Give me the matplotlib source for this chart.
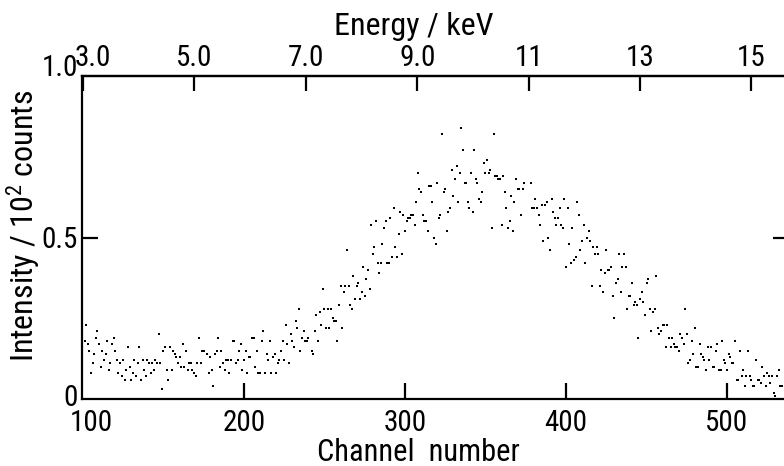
import numpy as np
import matplotlib
matplotlib.use("Agg")
import matplotlib.pyplot as plt
from matplotlib import font_manager
from matplotlib.transforms import ScaledTranslation

# Spectrum readings (intensity in units of 10^2 counts), one point per channel,
# grouped into consecutive runs that begin at the given channel.
run_start = [101, 177, 242, 272, 378, 506]

run_101 = [0.18, 0.23, 0.17, 0.15, 0.08, 0.11, 0.14, 0.19, 0.21, 0.17, 0.10, 0.15, 0.12,
           0.14, 0.18, 0.09, 0.11, 0.17, 0.19, 0.15, 0.12, 0.08, 0.11, 0.07, 0.12, 0.06,
           0.09, 0.16, 0.10, 0.06, 0.08, 0.12, 0.07, 0.11, 0.16, 0.06, 0.12, 0.09, 0.07,
           0.12, 0.11, 0.08, 0.11, 0.09, 0.12, 0.11, 0.20, 0.11, 0.03, 0.15, 0.16, 0.09,
           0.06, 0.16, 0.09, 0.15, 0.14, 0.13, 0.11, 0.13, 0.10, 0.17, 0.10, 0.15, 0.09,
           0.11, 0.11, 0.09, 0.08, 0.07, 0.11, 0.19, 0.11, 0.15, 0.15]

run_177 = [0.14, 0.08, 0.13, 0.09, 0.04, 0.14, 0.15, 0.19, 0.10, 0.15, 0.11, 0.09, 0.12,
           0.12, 0.08, 0.12, 0.18, 0.18, 0.11, 0.12, 0.15, 0.17, 0.09, 0.12, 0.15, 0.08,
           0.13, 0.13, 0.19, 0.19, 0.10, 0.15, 0.08, 0.08, 0.18, 0.21, 0.08, 0.14, 0.12,
           0.18, 0.08, 0.13, 0.14, 0.08, 0.11, 0.12, 0.15, 0.18, 0.12, 0.23, 0.17, 0.11,
           0.20, 0.18, 0.16, 0.24, 0.22, 0.28, 0.15, 0.19, 0.21, 0.18, 0.18, 0.19]

run_242 = [0.15, 0.14, 0.21, 0.26, 0.18, 0.27, 0.23, 0.34, 0.28, 0.22, 0.28, 0.22, 0.28,
           0.25, 0.24, 0.24, 0.18, 0.29, 0.35, 0.22, 0.33, 0.35, 0.46, 0.35, 0.29, 0.28,
           0.38, 0.31, 0.35, 0.36]

run_272 = [0.31, 0.33, 0.41, 0.32, 0.37, 0.40, 0.34, 0.54, 0.45, 0.47, 0.55, 0.42, 0.39,
           0.42, 0.48, 0.53, 0.55, 0.42, 0.42, 0.56, 0.44, 0.59, 0.47, 0.44, 0.51, 0.58,
           0.45, 0.57, 0.52, 0.55, 0.56, 0.56, 0.57, 0.57, 0.54, 0.61, 0.70, 0.65, 0.64,
           0.57, 0.55, 0.55, 0.52, 0.66, 0.66, 0.61, 0.50, 0.48, 0.67, 0.56, 0.57, 0.82,
           0.64, 0.65, 0.52, 0.58, 0.59, 0.71, 0.63, 0.68, 0.72, 0.61, 0.70, 0.84, 0.77,
           0.67, 0.67, 0.61, 0.59, 0.70, 0.58, 0.77, 0.68, 0.67, 0.62, 0.61, 0.64, 0.73,
           0.70, 0.74, 0.70, 0.71, 0.53, 0.82, 0.69, 0.69, 0.68, 0.68, 0.54, 0.69, 0.64,
           0.59, 0.53, 0.55, 0.63, 0.52, 0.61, 0.68, 0.65, 0.65, 0.57, 0.65, 0.67]

run_378 = [0.67, 0.59, 0.59, 0.62, 0.59, 0.57, 0.54, 0.60, 0.49, 0.60, 0.61, 0.50, 0.46,
           0.62, 0.58, 0.56, 0.54, 0.56, 0.59, 0.54, 0.53, 0.62, 0.41, 0.59, 0.48, 0.42,
           0.53, 0.43, 0.44, 0.61, 0.57, 0.46, 0.49, 0.54, 0.42, 0.50, 0.52, 0.49, 0.35,
           0.47, 0.45, 0.47, 0.45, 0.35, 0.40, 0.33, 0.39, 0.46, 0.40, 0.40, 0.41, 0.32,
           0.25, 0.36, 0.37, 0.45, 0.33, 0.41, 0.45, 0.41, 0.28, 0.32, 0.32, 0.36, 0.29,
           0.30, 0.29, 0.19, 0.31, 0.33, 0.30, 0.26, 0.36, 0.37, 0.28, 0.21, 0.27, 0.28,
           0.38, 0.22, 0.20, 0.21, 0.23, 0.23, 0.16, 0.23, 0.19, 0.16, 0.19, 0.17, 0.16,
           0.16, 0.15, 0.20, 0.19, 0.17, 0.28, 0.20, 0.11, 0.12, 0.18, 0.14, 0.22, 0.10,
           0.10, 0.17, 0.14, 0.13, 0.12, 0.09, 0.16, 0.12, 0.16, 0.10, 0.10, 0.15, 0.17,
           0.09, 0.09, 0.18, 0.12, 0.11, 0.09, 0.14, 0.13, 0.11, 0.11, 0.18]

run_506 = [0.06, 0.06, 0.15, 0.07, 0.09, 0.04, 0.07, 0.15, 0.07, 0.06, 0.04, 0.04, 0.12,
           0.06, 0.06, 0.05, 0.10, 0.07, 0.04, 0.08, 0.07, 0.05, 0.07, 0.02, 0.01, 0.07,
           0.09, 0.04, 0.04]

runs = [run_101, run_177, run_242, run_272, run_378, run_506]

# Axis ticks and labels
channel_ticks = [100, 200, 300, 400, 500]
channel_labels = ["100", "200", "300", "400", "500"]
intensity_ticks = [0, 0.5, 1.0]
intensity_labels = ["0", "0.5", "1.0"]
energy_ticks = [3.0, 5.0, 7.0, 9.0, 11.0, 13.0, 15.0]
energy_labels = ["3.0", "5.0", "7.0", "9.0", "11", "13", "15"]

# Energy calibration: E = e0 + (channel - 100) / channels_per_keV
e0 = 3.0
channels_per_keV = 34.6


def ch_to_e(ch):
    return e0 + (np.asarray(ch, dtype=float) - 100.0) / channels_per_keV


def e_to_ch(e):
    return 100.0 + (np.asarray(e, dtype=float) - e0) * channels_per_keV


# Narrow sans face, falling back to DejaVu Sans
available = {f.name for f in font_manager.fontManager.ttflist}
face = "DejaVu Sans"
for cand in ["Roboto Condensed", "DejaVu Sans Condensed", "Liberation Sans Narrow"]:
    if cand in available:
        face = cand
        break
plt.rcParams["font.family"] = [face, "DejaVu Sans"]
plt.rcParams["mathtext.default"] = "regular"

channels = np.concatenate([np.arange(s, s + len(r)) for s, r in zip(run_start, runs)])
intensity = np.concatenate([np.asarray(r, dtype=float) for r in runs])

W, H = 784, 466
fig = plt.figure(figsize=(W / 100, H / 100), dpi=100)
left_px, right_px, top_px, bottom_px = 82, 789, 76, 399
ax = fig.add_axes([left_px / W, 1 - bottom_px / H,
                   (right_px - left_px) / W, (bottom_px - top_px) / H])

ax.plot(channels, intensity, linestyle="none", marker="s", markersize=1.8,
        color="black", markeredgewidth=0)

ax.set_xlim(99.4, 538.5)
ax.set_ylim(0, 1.0)

lw = 1.6
for sp in ax.spines.values():
    sp.set_linewidth(lw)

fs = 21
ax.set_xticks(channel_ticks)
ax.set_xticklabels(channel_labels, fontsize=fs)
ax.set_yticks(intensity_ticks)
ax.set_yticklabels(intensity_labels, fontsize=fs)
ax.tick_params(axis="x", direction="in", length=11.5, width=lw, pad=7, top=False)
ax.tick_params(axis="y", direction="in", length=11.5, width=lw, pad=3, right=True)

# hide the corner ticks that coincide with the frame
for t in ax.yaxis.get_major_ticks():
    if t.get_loc() in (0, 1.0):
        t.tick1line.set_visible(False)
        t.tick2line.set_visible(False)
for t in ax.xaxis.get_major_ticks():
    if t.get_loc() == 100:
        t.tick1line.set_visible(False)

# tick label placement details
ylabs = ax.get_yticklabels()
ylabs[2].set_verticalalignment("baseline")
ylabs[0].set_transform(ylabs[0].get_transform() + ScaledTranslation(0, 3 / 72, fig.dpi_scale_trans))
xlabs = ax.get_xticklabels()
xlabs[0].set_transform(xlabs[0].get_transform() + ScaledTranslation(6 / 72, 0, fig.dpi_scale_trans))

sec = ax.secondary_xaxis("top", functions=(ch_to_e, e_to_ch))
sec.set_xticks(energy_ticks)
sec.set_xticklabels(energy_labels, fontsize=fs)
sec.tick_params(direction="in", length=11, width=lw, pad=3)
sec.spines["top"].set_linewidth(lw)
slabs = sec.get_xticklabels()
slabs[0].set_transform(slabs[0].get_transform() + ScaledTranslation(7 / 72, 0, fig.dpi_scale_trans))

# axis titles
fig.text(414 / W, 1 - 35 / H, "Energy / keV", fontsize=23, ha="center", va="baseline")
fig.text(418 / W, 1 - 461 / H, "Channel  number", fontsize=22, ha="center", va="baseline")
fig.text(24 / W, 1 - 226 / H, "Intensity / 10$^2$ counts", fontsize=23,
         ha="center", va="center", rotation=90)

fig.savefig("out.png", dpi=100)
